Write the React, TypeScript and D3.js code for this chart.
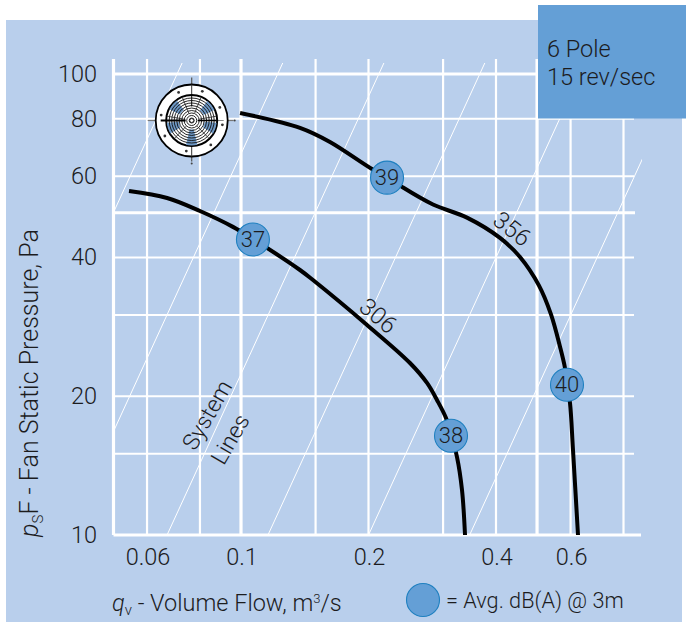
import React from "react";
import * as d3 from "d3";

const W = 686, H = 622;
const FONT = "Roboto, 'Liberation Sans', sans-serif";
const PANEL = "#b9cfec", BOX = "#649fd6", RIM = "#1f80c0", INK = "#1c1c1e";

const xMajorGrid = [0.05, 0.1, 0.5];
const xMinorGrid = [0.06, 0.08, 0.15, 0.2, 0.3, 0.4, 0.6, 0.8];
const yMajorGrid = [100, 50, 10];
const yMinorGrid = [80, 60, 40, 30, 20, 15];
const xTickLabels = [0.06, 0.1, 0.2, 0.4, 0.6];
const yTickLabels = [100, 80, 60, 40, 20, 10];

// Flow where each system line crosses 10 Pa
const systemLineFlows = [0.02234, 0.0386, 0.0669, 0.1158, 0.2, 0.3466];
const systemLinePressures = [10, 140];

const curve306Flow = [0.0544, 0.0669, 0.08, 0.0957, 0.1067, 0.1378, 0.1479, 0.1984, 0.2506, 0.2749, 0.2902, 0.3048, 0.3132, 0.3236, 0.3325, 0.338];
const curve306Pressure = [55.74, 53.83, 50.44, 46.6, 43.86, 37.57, 35.73, 28.55, 23.61, 21.37, 19.63, 17.94, 16.48, 14.76, 12.52, 10];
const curve356Flow = [0.0995, 0.1378, 0.1622, 0.2038, 0.2212, 0.2399, 0.284, 0.3416, 0.4088, 0.4557, 0.505, 0.5394, 0.5665, 0.582, 0.5884, 0.5981, 0.6079, 0.6247];
const curve356Pressure = [82.3, 76.4, 71.2, 62.2, 59.8, 56.9, 52.1, 48.8, 44.1, 40.1, 34.8, 30.1, 25.6, 23.03, 21.26, 19.33, 15.29, 10];

const markerLabels = ["37", "38", "39", "40"];
const markerFlow = [0.1067, 0.3132, 0.2212, 0.5884];
const markerPressure = [43.76, 16.42, 59.6, 21.18];

const fanRingRadii = [2.5, 5, 7.5, 10, 12.5, 15, 17.5, 20, 22.5];
const fanBladeAngles = [-50, 52, 108, 180, 252];
const fanSpokeAngles = [-22, 22, 80, 136, 224, -80];
const fanBoltAngles = [8, 52, 100, 150, 190, 245, 290, 335];

const x = d3.scaleLog().domain([0.05, 0.8]).range([113.5, 623.5]);
const y = d3.scaleLog().domain([10, 100]).range([535, 74]);

const curveLine = d3.line<number>()
  .curve(d3.curveCatmullRom.alpha(0.5));

function path(flows: number[], pressures: number[]) {
  return curveLine(flows.map((q, i) => [x(q), y(pressures[i])] as any) as any) as string;
}

function Fan({ cx, cy }: { cx: number; cy: number }) {
  const sector = d3.arc();
  const rad = (a: number) => (a * Math.PI) / 180;
  return (
    <g transform={`translate(${cx},${cy})`}>
      <line x1={-44} x2={-36} y1={0} y2={0} stroke="#777" strokeWidth={1.2} />
      <line x1={36} x2={42} y1={0} y2={0} stroke="#777" strokeWidth={1.2} />
      <line x1={0} x2={0} y1={-43} y2={-36} stroke="#555" strokeWidth={1.2} />
      <line x1={0} x2={0} y1={36} y2={41} stroke="#555" strokeWidth={1.2} />
      <circle r={36} fill="#fff" stroke="#000" strokeWidth={1.8} />
      <line x1={25} x2={32} y1={0} y2={0} stroke="#888" strokeWidth={1} />
      <line x1={0} x2={0} y1={-36} y2={36} stroke="#333" strokeWidth={1} />
      <circle r={25.5} fill="#fff" stroke="#000" strokeWidth={2} />
      {fanBladeAngles.map((a, i) => (
        <path
          key={i}
          d={sector({ innerRadius: i === 3 ? 9 : 13, outerRadius: 25, startAngle: rad(a - 13), endAngle: rad(a + 13) }) as string}
          fill="#6d97c4"
        />
      ))}
      {fanRingRadii.map((r) => (
        <circle key={r} r={r} fill="none" stroke="#111" strokeWidth={0.9} />
      ))}
      {fanSpokeAngles.map((a) => (
        <line key={a} x1={8 * Math.sin(rad(a))} y1={-8 * Math.cos(rad(a))} x2={25 * Math.sin(rad(a))} y2={-25 * Math.cos(rad(a))} stroke="#222" strokeWidth={0.8} />
      ))}
      <line x1={-31} x2={-6} y1={0} y2={0} stroke="#000" strokeWidth={2} />
      <line x1={6} x2={25} y1={0} y2={0} stroke="#000" strokeWidth={1.6} />
      <line x1={0} x2={0} y1={-25} y2={-14} stroke="#000" strokeWidth={1} />
      <circle r={2} fill="#fff" stroke="#000" strokeWidth={0.8} />
      {fanBoltAngles.map((a) => (
        <circle key={a} r={1.4} fill="#333" cx={31 * Math.cos(rad(a))} cy={31 * Math.sin(rad(a))} />
      ))}
      <circle cx={43} cy={0} r={1} fill="#444" />
      <circle cx={0} cy={43} r={1} fill="#444" />
    </g>
  );
}

export default function App() {
  const [left, top, bottom] = [x(0.05), 59, y(10)];
  return (
    <svg width={W} height={H} viewBox={`0 0 ${W} ${H}`} style={{ position: "absolute", left: 0, top: 0, fontFamily: FONT, fontWeight: 300 }}>
      <defs>
        <clipPath id="sys"><rect x={114} y={63} width={528} height={472} /></clipPath>
      </defs>
      <rect width={W} height={H} fill="#fff" />
      <rect x={6} y={20} width={676} height={602} fill={PANEL} />

      {xMinorGrid.map((v) => <line key={v} x1={x(v)} x2={x(v)} y1={top} y2={bottom} stroke="#fff" strokeWidth={2.2} />)}
      {xMajorGrid.map((v) => <line key={v} x1={x(v)} x2={x(v)} y1={top} y2={bottom} stroke="#fff" strokeWidth={3.2} />)}
      {yMinorGrid.map((v) => <line key={v} x1={left} x2={634} y1={y(v)} y2={y(v)} stroke="#fff" strokeWidth={2} />)}
      {yMajorGrid.map((v) => <line key={v} x1={left} x2={v === 10 ? 641 : 635} y1={y(v)} y2={y(v)} stroke="#fff" strokeWidth={3.2} />)}

      <g clipPath="url(#sys)">
        {systemLineFlows.map((q0) => (
          <line key={q0}
            x1={x(q0)} y1={y(systemLinePressures[0])}
            x2={x(q0 * Math.sqrt(systemLinePressures[1] / 10))} y2={y(systemLinePressures[1])}
            stroke="#fff" strokeWidth={1} />
        ))}
      </g>

      <path d={path(curve306Flow, curve306Pressure)} fill="none" stroke="#000" strokeWidth={4} />
      <path d={path(curve356Flow, curve356Pressure)} fill="none" stroke="#000" strokeWidth={4} />

      <Fan cx={191.7} cy={120.5} />

      {markerLabels.map((t, i) => (
        <g key={t}>
          <circle cx={x(markerFlow[i])} cy={y(markerPressure[i])} r={16.5} fill={BOX} stroke={RIM} strokeWidth={1.1} />
          <text x={x(markerFlow[i])} y={y(markerPressure[i]) + 7.5} textAnchor="middle" fontSize={22} fill={INK}>{t}</text>
        </g>
      ))}

      <text transform="translate(512,229) rotate(38)" textAnchor="middle" dominantBaseline="central" fontSize={24} fill={INK}>356</text>
      <text transform="translate(378,316) rotate(40)" textAnchor="middle" dominantBaseline="central" fontSize={24} fill={INK}>306</text>
      <text transform="translate(214,419) rotate(-60)" textAnchor="middle" fontSize={23} fill={INK}>System</text>
      <text transform="translate(237,443) rotate(-60)" textAnchor="middle" fontSize={23} fill={INK}>Lines</text>

      {yTickLabels.map((v) => (
        <text key={v} x={97} y={y(v) + 8} textAnchor="end" fontSize={23.5} fill={INK}>{v}</text>
      ))}
      {xTickLabels.map((v) => (
        <text key={v} x={x(v) + 1} y={565} textAnchor="middle" fontSize={23.5} fill={INK}>{v}</text>
      ))}

      <text transform="translate(38,383) rotate(-90)" textAnchor="middle" fontSize={25} fill={INK}>
        <tspan fontStyle="italic">p</tspan><tspan fontSize={15} dy={5}>S</tspan><tspan dy={-5}>F - Fan Static Pressure, Pa</tspan>
      </text>
      <text x={112} y={611} fontSize={23.5} fill={INK}>
        <tspan fontStyle="italic">q</tspan><tspan fontSize={15} dy={4}>v</tspan><tspan dy={-4}> - Volume Flow, m</tspan><tspan fontSize={13} dy={-8}>3</tspan><tspan dy={8}>/s</tspan>
      </text>

      <circle cx={423} cy={600} r={16.5} fill={BOX} stroke={RIM} strokeWidth={1.1} />
      <text x={446} y={608} fontSize={21.7} fill={INK}>= Avg. dB(A) @ 3m</text>

      <rect x={538} y={5} width={148} height={113.5} fill={BOX} />
      <text x={547} y={57} fontSize={23.5} fill={INK}>6 Pole</text>
      <text x={547} y={85} fontSize={23.5} fill={INK}>15 rev/sec</text>
    </svg>
  );
}
